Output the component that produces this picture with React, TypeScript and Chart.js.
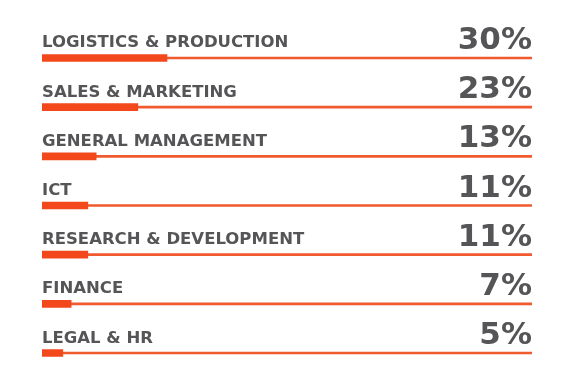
import React, { useEffect, useRef } from "react";
import { Chart, registerables } from "chart.js";

Chart.register(...registerables);

const categories = [
  "LOGISTICS & PRODUCTION",
  "SALES & MARKETING",
  "GENERAL MANAGEMENT",
  "ICT",
  "RESEARCH & DEVELOPMENT",
  "FINANCE",
  "LEGAL & HR",
];
const shares = [30, 23, 13, 11, 11, 7, 5];
const axisMax = 117.6;
const trackValues = categories.map(() => axisMax);

const labelPlugin = {
  id: "rowLabels",
  afterDatasetsDraw(chart: any) {
    const { ctx, chartArea, scales } = chart;
    const y = scales.y;
    ctx.save();
    ctx.fillStyle = "#555557";
    categories.forEach((cat, i) => {
      const py = y.getPixelForValue(i);
      ctx.font = "bold 16.5px 'DejaVu Sans'";
      ctx.textAlign = "left";
      ctx.textBaseline = "alphabetic";
      ctx.fillText(cat, chartArea.left, py - 10.5);
      ctx.font = "bold 31px 'DejaVu Sans'";
      ctx.textAlign = "right";
      ctx.fillText(shares[i] + "%", chartArea.right, py - 9);
    });
    ctx.restore();
  },
};

export default function App() {
  const ref = useRef<HTMLCanvasElement | null>(null);
  useEffect(() => {
    if (!ref.current) return;
    const chart = new Chart(ref.current, {
      type: "bar",
      data: {
        labels: categories,
        datasets: [
          {
            data: shares,
            backgroundColor: "#f2481b",
            barThickness: 7,
            grouped: false,
            borderWidth: 0,
          },
          {
            data: trackValues,
            backgroundColor: "#f15a2e",
            barThickness: 2,
            grouped: false,
            borderWidth: 0,
          },
        ],
      },
      options: {
        indexAxis: "y",
        animation: false,
        responsive: true,
        maintainAspectRatio: false,
        layout: { padding: { left: 42, right: 51, top: 33.4, bottom: 10.4 } },
        plugins: { legend: { display: false }, tooltip: { enabled: false } },
        scales: {
          x: { display: false, min: 0, max: axisMax },
          y: { display: false },
        },
      },
      plugins: [labelPlugin],
    });
    return () => chart.destroy();
  }, []);
  return (
    <div style={{ position: "fixed", left: 0, top: 0, width: 583, height: 388, background: "#fff" }}>
      <canvas ref={ref} />
    </div>
  );
}
